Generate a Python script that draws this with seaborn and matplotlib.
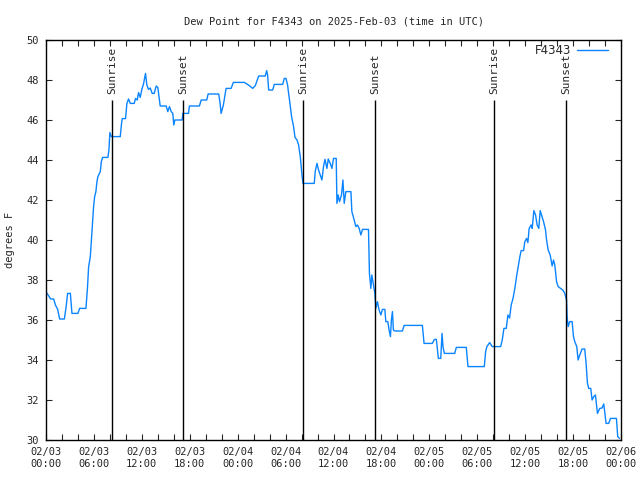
import pandas as pd
import numpy as np
import matplotlib
matplotlib.use('Agg')
import matplotlib.pyplot as plt
import matplotlib.dates as mdates
import seaborn as sns

# hours after 2025-02-03 00:00 UTC, dew point in degrees F
hours = [0.1, 0.59, 0.96, 1.18, 1.46, 1.71, 2.30, 2.50, 2.71, 3.05, 3.25, 4.00, 4.21, 5.00,
         5.18, 5.34, 5.55, 5.80, 5.96, 6.09, 6.25, 6.38, 6.50, 6.80, 6.93, 7.09, 7.75, 7.88,
         8.00, 8.18, 9.30, 9.46, 9.55, 9.96, 10.13, 10.34, 10.55, 11.05, 11.21, 11.43, 11.59,
         11.80, 12.00, 12.21, 12.46, 12.63, 12.84, 13.05, 13.30, 13.55, 13.80, 14.00, 14.30,
         15.05, 15.25, 15.46, 15.68, 15.88, 16.00, 16.13, 17.05, 17.13, 17.84, 17.96, 19.21,
         19.43, 20.13, 20.30, 21.63, 21.80, 21.93, 22.21, 22.55, 23.18, 23.46, 24.84, 25.46,
         25.88, 26.21, 26.63, 26.71, 27.46, 27.63, 27.75, 27.88, 28.38, 28.59, 29.63, 29.84,
         30.05, 30.25, 30.38, 30.55, 30.75, 31.00, 31.18, 31.43, 31.63, 31.84, 32.05, 32.18,
         33.59, 33.71, 33.93, 34.13, 34.34, 34.55, 34.75, 34.93, 35.18, 35.34, 35.59, 35.80,
         36.00, 36.34, 36.43, 36.59, 36.75, 37.00, 37.18, 37.34, 37.55, 38.18, 38.30, 38.59,
         38.80, 39.00, 39.21, 39.43, 39.63, 40.38, 40.50, 40.68, 40.80, 41.00, 41.18, 41.30,
         41.50, 41.71, 41.93, 42.13, 42.43, 42.55, 42.80, 42.96, 43.13, 43.25, 43.38, 43.50,
         43.68, 44.63, 44.84, 47.13, 47.34, 48.38, 48.63, 48.88, 49.13, 49.43, 49.59, 49.71,
         49.88, 51.18, 51.38, 52.63, 52.84, 54.88, 55.05, 55.21, 55.55, 55.88, 56.93, 57.13,
         57.34, 57.63, 57.84, 58.05, 58.25, 58.46, 58.71, 58.93, 59.13, 59.34, 59.50, 59.80,
         59.96, 60.18, 60.34, 60.50, 60.75, 60.88, 61.09, 61.30, 61.50, 61.71, 61.88, 62.05,
         62.30, 62.55, 62.68, 62.88, 63.13, 63.38, 63.55, 63.71, 63.93, 64.13, 64.43, 64.71,
         64.96, 65.18, 65.25, 65.38, 65.59, 65.88, 66.05, 66.21, 66.46, 66.63, 66.84, 67.13,
         67.46, 67.63, 67.80, 67.96, 68.21, 68.38, 68.59, 68.80, 69.05, 69.34, 69.63, 69.84,
         69.96, 70.13, 70.46, 70.68, 71.43, 71.59, 71.80]
dewpoint = [37.35, 37.05, 37.05, 36.75, 36.53, 36.05, 36.05, 36.6, 37.33, 37.33, 36.33, 36.33,
            36.58, 36.58, 37.53, 38.67, 39.17, 40.67, 41.67, 42.17, 42.42, 42.92, 43.17, 43.42,
            43.92, 44.13, 44.13, 44.5, 45.37, 45.17, 45.17, 45.83, 46.07, 46.07, 46.83, 47.05,
            46.83, 46.83, 47.08, 47.0, 47.37, 47.13, 47.53, 47.8, 48.33, 47.75, 47.53, 47.6,
            47.33, 47.33, 47.7, 47.63, 46.7, 46.7, 46.42, 46.67, 46.42, 46.33, 45.75, 46.0, 46.0,
            46.33, 46.33, 46.7, 46.7, 47.0, 47.0, 47.3, 47.3, 46.83, 46.33, 46.75, 47.58, 47.58,
            47.88, 47.88, 47.72, 47.58, 47.72, 48.2, 48.2, 48.2, 48.47, 48.25, 47.5, 47.5, 47.78,
            47.78, 48.08, 48.08, 47.75, 47.33, 46.83, 46.17, 45.67, 45.13, 45.0, 44.75, 44.17,
            43.25, 42.83, 42.83, 43.42, 43.83, 43.5, 43.25, 43.0, 43.67, 44.03, 43.58, 44.05,
            43.83, 43.58, 44.08, 44.08, 41.83, 42.25, 41.92, 42.25, 43.0, 41.83, 42.42, 42.42,
            41.42, 41.0, 40.67, 40.75, 40.58, 40.25, 40.53, 40.53, 38.33, 37.58, 38.25, 37.75,
            37.33, 36.58, 36.92, 36.5, 36.25, 36.53, 36.53, 35.92, 35.92, 35.5, 35.17, 36.0,
            36.42, 35.5, 35.45, 35.45, 35.73, 35.73, 34.83, 34.83, 35.03, 35.03, 34.08, 34.08,
            35.33, 34.67, 34.33, 34.33, 34.63, 34.63, 33.67, 33.67, 34.42, 34.67, 34.87, 34.67,
            34.67, 35.0, 35.58, 35.58, 36.25, 36.1, 36.75, 37.05, 37.58, 38.2, 38.67, 39.17,
            39.47, 39.47, 39.92, 40.08, 39.87, 40.58, 40.75, 40.58, 41.47, 41.25, 40.75, 40.58,
            41.47, 41.25, 40.92, 40.5, 40.0, 39.5, 39.25, 38.7, 39.0, 38.75, 37.92, 37.67, 37.58,
            37.5, 37.33, 37.0, 36.17, 35.67, 35.92, 35.92, 35.17, 34.92, 34.67, 34.0, 34.25,
            34.55, 34.55, 33.83, 32.83, 32.58, 32.58, 32.0, 32.17, 32.25, 31.33, 31.58, 31.6,
            31.8, 31.42, 30.83, 30.83, 31.08, 31.08, 30.17, 30.08]

sun_hours = [8.25, 17.13, 32.18, 41.2, 56.13, 65.13]
sun_labels = ['Sunrise', 'Sunset', 'Sunrise', 'Sunset', 'Sunrise', 'Sunset']

start = pd.Timestamp('2025-02-03 00:00')
df = pd.DataFrame({
    'time': start + pd.to_timedelta(hours, unit='h'),
    'dewpoint': dewpoint,
})
sun_times = start + pd.to_timedelta(sun_hours, unit='h')

sns.set_style('ticks')
plt.rcParams['font.family'] = ['DejaVu Sans Mono', 'DejaVu Sans']
plt.rcParams['font.size'] = 7.5

fig = plt.figure(figsize=(6.4, 4.8), dpi=100)
ax = fig.add_axes([46 / 640, 40 / 480, 575 / 640, 400 / 480])

sns.lineplot(data=df, x='time', y='dewpoint', ax=ax, color='#0a84ff',
             linewidth=1.0, sort=False, label='F4343')

ax.vlines(sun_times, 30, 47, color='black', linewidth=1.0)
for t, lab in zip(sun_times, sun_labels):
    ax.text(t, 47.3, lab, rotation=90, ha='center', va='bottom', fontsize=8)

ax.set_xlim(start, start + pd.Timedelta(hours=72))
ax.set_ylim(30, 50)
ax.set_yticks(range(30, 51, 2))
ax.xaxis.set_major_locator(mdates.HourLocator(byhour=[0, 6, 12, 18]))
ax.xaxis.set_minor_locator(mdates.HourLocator(interval=2))
ax.xaxis.set_major_formatter(mdates.DateFormatter('%m/%d\n%H:%M'))

ax.tick_params(which='both', direction='in', top=True, right=True, length=4,
               width=0.8, labelsize=7.5, pad=5)
for s in ax.spines.values():
    s.set_linewidth(1.0)
    s.set_color('black')

ax.set_xlabel('')
ax.set_ylabel('degrees F', fontsize=7.5, labelpad=8)
ax.set_title('Dew Point for F4343 on 2025-Feb-03 (time in UTC)', fontsize=7.5, pad=11)

leg = ax.legend(loc='upper right', bbox_to_anchor=(1 - 11 / 575, 1 - 2 / 400), frameon=False,
                markerfirst=False, handlelength=2.6, handletextpad=0.45,
                borderpad=0.2, borderaxespad=0,
                prop={'family': 'DejaVu Sans', 'size': 8.5})

fig.savefig('out.png', dpi=100)
